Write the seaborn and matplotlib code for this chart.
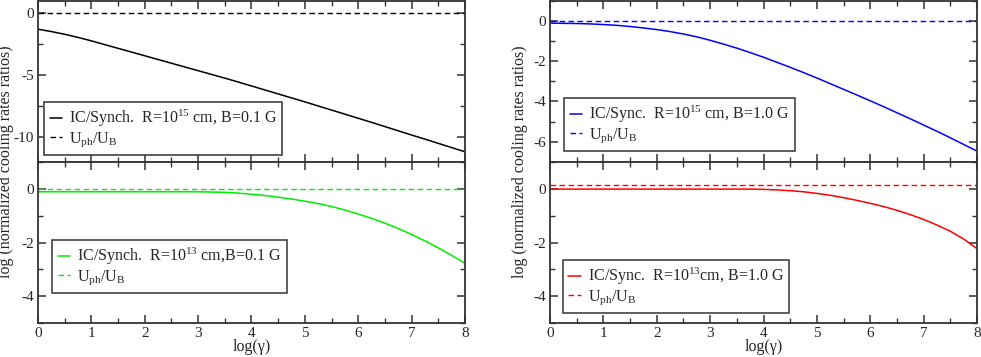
import matplotlib
matplotlib.use("Agg")
import matplotlib.pyplot as plt
from matplotlib.ticker import MultipleLocator
import seaborn as sns

# log(gamma) grid
log_gamma = [0.0, 0.25, 0.5, 0.75, 1.0, 1.25, 1.5, 1.75, 2.0, 2.25, 2.5, 2.75, 3.0, 3.25, 3.5, 3.75,
             4.0, 4.25, 4.5, 4.75, 5.0, 5.25, 5.5, 5.75, 6.0, 6.25, 6.5, 6.75, 7.0, 7.25, 7.5, 7.75, 8.0]

# IC / synchrotron cooling ratios
ic_r15_b01 = [-1.31, -1.50, -1.72, -1.97, -2.25, -2.55, -2.85, -3.15, -3.45, -3.75, -4.05, -4.35, -4.65, -4.95, -5.25, -5.56,
              -5.88, -6.20, -6.52, -6.84, -7.16, -7.49, -7.82, -8.15, -8.48, -8.81, -9.15, -9.49, -9.83, -10.16, -10.50, -10.84, -11.18]
ic_r15_b10 = [-0.12, -0.13, -0.14, -0.16, -0.19, -0.23, -0.29, -0.36, -0.44, -0.54, -0.66, -0.80, -0.97, -1.16, -1.36, -1.58,
              -1.81, -2.06, -2.31, -2.57, -2.84, -3.12, -3.40, -3.68, -3.97, -4.26, -4.56, -4.86, -5.17, -5.48, -5.80, -6.13, -6.46]
ic_r13_b01 = [-0.11, -0.11, -0.11, -0.11, -0.11, -0.11, -0.11, -0.11, -0.11, -0.11, -0.11, -0.11, -0.11, -0.12, -0.13, -0.16,
              -0.20, -0.25, -0.31, -0.38, -0.46, -0.55, -0.66, -0.79, -0.94, -1.10, -1.28, -1.48, -1.70, -1.94, -2.20, -2.48, -2.78]
ic_r13_b10 = [-0.01, -0.01, -0.01, -0.01, -0.01, -0.01, -0.01, -0.01, -0.01, -0.01, -0.01, -0.01, -0.01, -0.01, -0.01, -0.01,
              -0.02, -0.04, -0.07, -0.11, -0.17, -0.24, -0.33, -0.43, -0.54, -0.66, -0.80, -0.96, -1.14, -1.35, -1.58, -1.87, -2.23]

# U_ph / U_B levels
uph_ub = {"r15_b01": 0.0, "r15_b10": 0.0, "r13_b01": 0.0, "r13_b10": 0.15}

labels = {
    "r15_b01": "IC/Synch.  R=10$^{15}$ cm, B=0.1 G",
    "r13_b01": "IC/Synch.  R=10$^{13}$ cm,B=0.1 G",
    "r15_b10": "IC/Sync.  R=10$^{15}$ cm, B=1.0 G",
    "r13_b10": "IC/Sync.  R=10$^{13}$cm, B=1.0 G",
}

sns.set_style("ticks")
plt.rcParams['font.family'] = ['Liberation Serif', 'DejaVu Serif']
plt.rcParams['mathtext.default'] = 'regular'
plt.rcParams['axes.unicode_minus'] = False

fig = plt.figure(figsize=(9.81, 3.57), dpi=100)
W = 427 / 981
axes = {
    "r15_b01": fig.add_axes([38 / 981, 1 - 162 / 357, W, 161.5 / 357]),
    "r13_b01": fig.add_axes([38 / 981, 1 - 323 / 357, W, 161 / 357]),
    "r15_b10": fig.add_axes([550 / 981, 1 - 162 / 357, W, 161.5 / 357]),
    "r13_b10": fig.add_axes([550 / 981, 1 - 323 / 357, W, 161 / 357]),
}
curves = {"r15_b01": ic_r15_b01, "r13_b01": ic_r13_b01, "r15_b10": ic_r15_b10, "r13_b10": ic_r13_b10}
colors = {"r15_b01": "black", "r13_b01": "#00ee00", "r15_b10": "#0000ff", "r13_b10": "#ff0000"}
ylims = {"r15_b01": (-12, 1), "r13_b01": (-5, 1), "r15_b10": (-7, 1), "r13_b10": (-5, 1)}
ymajor = {"r15_b01": 5, "r13_b01": 2, "r15_b10": 2, "r13_b10": 2}
leg_pos = {"r15_b01": (0.014, 0.043), "r13_b01": (0.033, 0.186), "r15_b10": (0.033, 0.068), "r13_b10": (0.030, 0.062)}

for key, ax in axes.items():
    c = colors[key]
    sns.lineplot(x=log_gamma, y=curves[key], ax=ax, color=c, lw=1.1, label=labels[key])
    sns.lineplot(x=log_gamma, y=[uph_ub[key]] * len(log_gamma), ax=ax, color=c, lw=1.0,
                 linestyle=(0, (4, 2.5)), label="U$_{ph}$/U$_{B}$")
    ax.set_xlim(0, 8)
    ax.set_ylim(*ylims[key])
    ax.xaxis.set_major_locator(MultipleLocator(1))
    ax.xaxis.set_minor_locator(MultipleLocator(0.5))
    ax.yaxis.set_major_locator(MultipleLocator(ymajor[key]))
    ax.yaxis.set_minor_locator(MultipleLocator(ymajor[key] / 2))
    ax.tick_params(which='both', direction='in', top=True, right=True, labelsize=11, color='0.2', pad=3)
    ax.tick_params(which='major', length=6, width=1.1)
    ax.tick_params(which='minor', length=3.5, width=1.0)
    for s in ax.spines.values():
        s.set_linewidth(1.3)
        s.set_color('0.2')
    if key.startswith("r15"):
        ax.tick_params(labelbottom=False)
    else:
        ax.set_xlabel("log(γ)", fontsize=11.5, labelpad=-0.5)
    leg = ax.legend(loc='lower left', bbox_to_anchor=leg_pos[key], borderaxespad=0, fontsize=11.5,
                    frameon=True, fancybox=False, framealpha=1, edgecolor='0.2',
                    handlelength=0.8, handletextpad=0.4, borderpad=0.35, labelspacing=0.1)
    leg.get_frame().set_linewidth(1.1)

fig.text(0.0065, 1 - 162 / 357, "log (normalized cooling rates ratios)", rotation=90,
         ha='center', va='center', fontsize=11.5)
fig.text(0.530, 1 - 162 / 357, "log (normalized cooling rates ratios)", rotation=90,
         ha='center', va='center', fontsize=11.5)

fig.savefig("out.png", dpi=100)
